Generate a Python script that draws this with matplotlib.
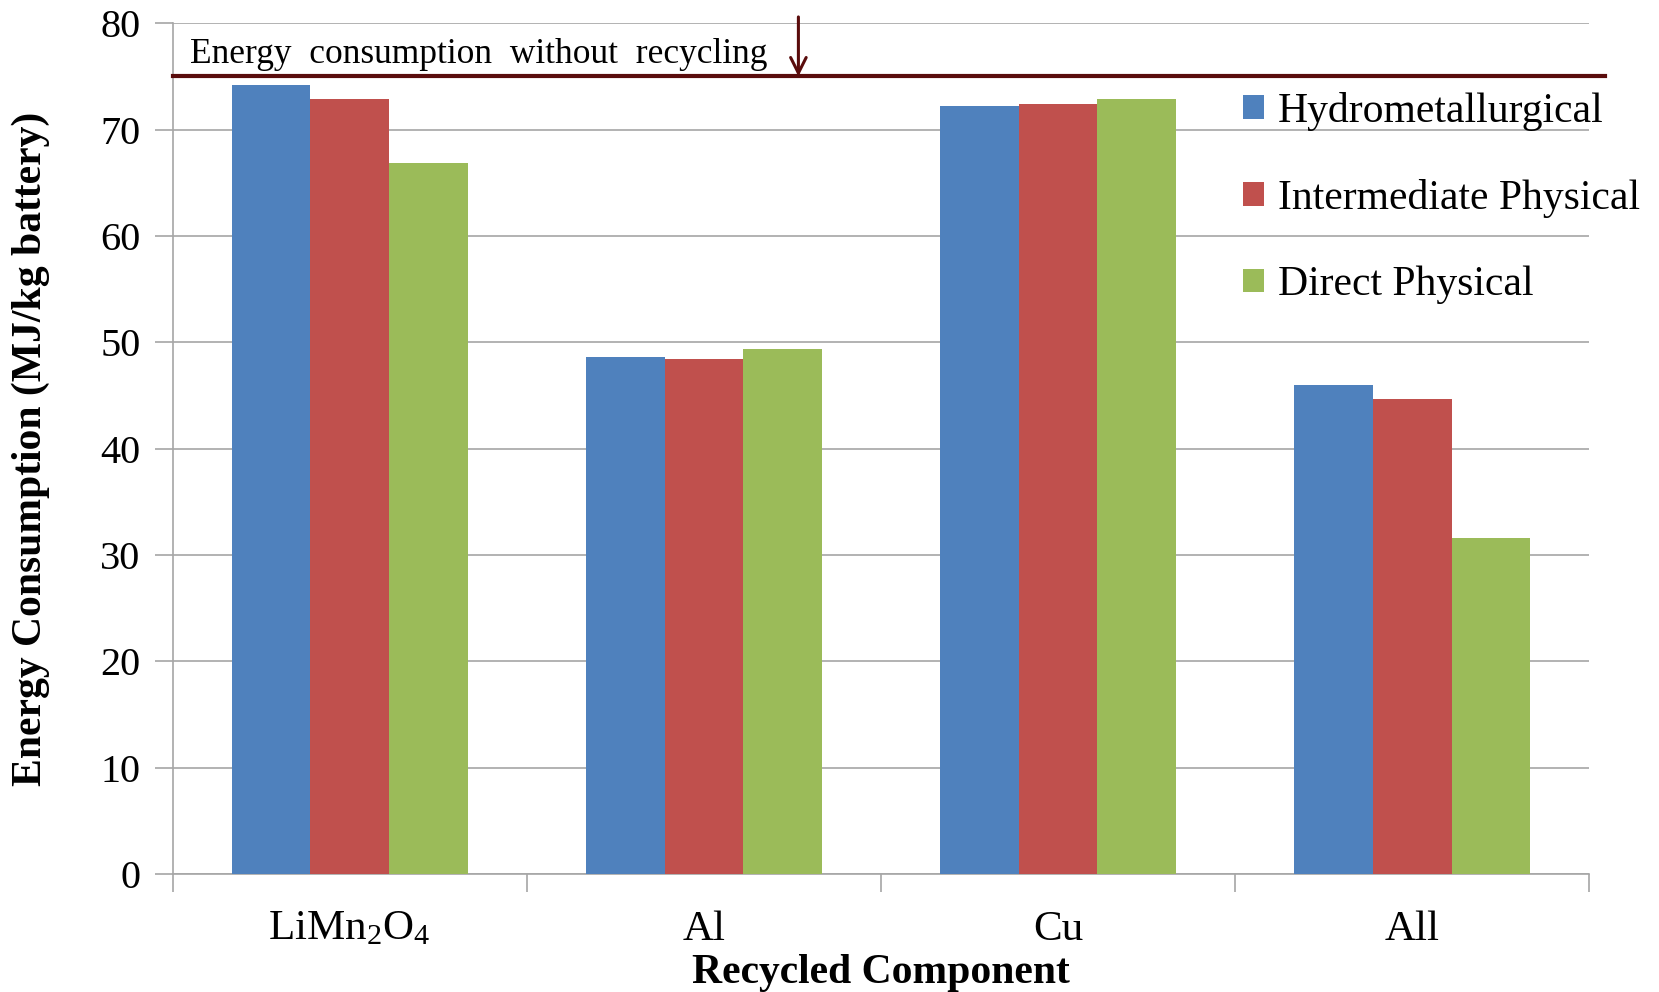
import numpy as np
import matplotlib
matplotlib.use("Agg")
import matplotlib.pyplot as plt

plt.rcParams['font.family'] = ['Liberation Serif', 'DejaVu Serif']
plt.rcParams['mathtext.fontset'] = 'custom'
plt.rcParams['mathtext.rm'] = 'Liberation Serif'
plt.rcParams['mathtext.it'] = 'Liberation Serif:italic'

# data
components = ['LiMn$_2$O$_4$', 'Al', 'Cu', 'All']
methods = ['Hydrometallurgical', 'Intermediate Physical', 'Direct Physical']
hydro = [74.2, 48.6, 72.2, 46.0]
intermediate = [72.9, 48.4, 72.4, 44.7]
direct = [66.9, 49.4, 72.9, 31.6]
no_recycling = 75.0

colors = ['#4F81BD', '#C0504D', '#9BBB59']
line_color = '#5a0c0c'
grid_color = '#a6a6a6'

fig = plt.figure(figsize=(16.59, 9.92), dpi=100)
ax = fig.add_axes([0.104, 0.119, 0.854, 0.8575])

x = np.arange(len(components))
w = 0.222
for i, (vals, lab) in enumerate(zip([hydro, intermediate, direct], methods)):
    ax.bar(x + (i - 1) * w, vals, width=w, color=colors[i], label=lab, zorder=3)

ax.set_xlim(-0.5, len(components) - 0.5)
ax.set_ylim(0, 80)
ax.set_yticks(np.arange(0, 81, 10))
ax.yaxis.grid(True, color=grid_color, linewidth=1.2, zorder=0)
ax.set_axisbelow(True)

# category ticks sit on group boundaries
ax.set_xticks(np.arange(-0.5, len(components)), minor=False)
ax.set_xticklabels([])
ax.set_xticks(x, minor=True)
ax.set_xticklabels(components, minor=True, fontsize=31)
ax.tick_params(axis='x', which='minor', length=0, pad=26)
ax.tick_params(axis='x', which='major', length=13, color=grid_color, width=1.2)
ax.tick_params(axis='y', length=13, color=grid_color, width=1.2, labelsize=29, pad=10)

for s in ['top', 'right']:
    ax.spines[s].set_visible(False)
for s in ['left', 'bottom']:
    ax.spines[s].set_color(grid_color)
    ax.spines[s].set_linewidth(1.2)

ax.set_xlabel('Recycled Component', fontsize=30, fontweight='bold', labelpad=4)
ax.set_ylabel('Energy Consumption (MJ/kg battery)', fontsize=30, fontweight='bold', labelpad=36)

# baseline without recycling
ax.plot([-0.5, 3.545], [no_recycling, no_recycling], color=line_color, lw=3,
        clip_on=False, zorder=4)
ax.annotate('', xy=(1.267, no_recycling), xytext=(1.267, 80.6),
            arrowprops=dict(arrowstyle='->', color=line_color, lw=2.2,
                            mutation_scale=28, shrinkA=0, shrinkB=0),
            annotation_clip=False, zorder=5)
ax.text(-0.45, 77.1, 'Energy  consumption  without  recycling', fontsize=25.5,
        va='center', ha='left')

leg = ax.legend(loc='upper left', bbox_to_anchor=(0.739, 0.924),
                bbox_transform=fig.transFigure, frameon=False, fontsize=30,
                handlelength=0.5, handleheight=0.5, handletextpad=0.35,
                labelspacing=1.15, borderaxespad=0)

fig.savefig('out.png', dpi=100, facecolor='white')
